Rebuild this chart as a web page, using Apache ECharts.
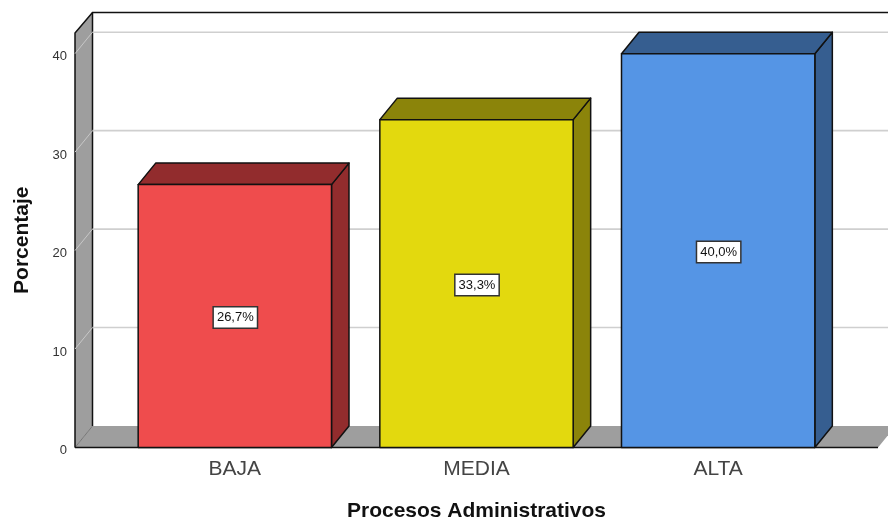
<!DOCTYPE html>
<html>
<head>
<meta charset="utf-8">
<style>html,body{margin:0;padding:0;background:#fff}#c{width:888px;height:523px}</style>
<script src="https://cdn.jsdelivr.net/npm/echarts@6/dist/echarts.min.js"></script>
</head>
<body>
<div id="c"></div>
<script>
const categories = ['BAJA', 'MEDIA', 'ALTA'];
const percentages = [26.7, 33.3, 40.0];
const valueLabels = ['26,7%', '33,3%', '40,0%'];
const frontColors = ['#EF4C4D', '#E3D90E', '#5595E5'];
const sideColors = ['#922C2D', '#8B840A', '#365E90'];
const gridTicks = [10, 20, 30, 40];
const yMax = 42.1;

const DX = 17.5, DY = -21.5, TOP_DY = -20.5, PAD = 39;
const INK = '#111';
const WALL = '#9E9E9E';
const FONT = '"Liberation Sans", Arial, sans-serif';

const chart = echarts.init(document.getElementById('c'), null, {renderer: 'canvas'});

function renderWalls(params, api) {
  const cs = params.coordSys;
  const xL = cs.x - PAD, xR = cs.x + cs.width + PAD;
  const y0 = api.coord([0, 0])[1];
  const yT = api.coord([0, yMax])[1];
  return {
    type: 'group',
    children: [
      {type: 'polygon', shape: {points: [[xL, y0], [xL + DX, y0 + DY], [xR + DX, y0 + DY], [xR, y0]]},
        style: {fill: WALL, stroke: null}},
      {type: 'polygon', shape: {points: [[xL, yT], [xL + DX, yT + TOP_DY], [xL + DX, y0 + DY], [xL, y0]]},
        style: {fill: WALL, stroke: null}},
      {type: 'line', shape: {x1: xL, y1: y0, x2: xL + DX, y2: y0 + DY}, style: {stroke: '#777', lineWidth: 1}},
      {type: 'polyline', shape: {points: [[xL, y0], [xL, yT], [xL + DX, yT + TOP_DY], [xR + DX + 20, yT + TOP_DY]]},
        style: {stroke: INK, fill: null, lineWidth: 1.5}},
      {type: 'line', shape: {x1: xL + DX, y1: yT + TOP_DY, x2: xL + DX, y2: y0 + DY}, style: {stroke: INK, lineWidth: 1.5}},
      {type: 'line', shape: {x1: xL, y1: y0, x2: xR, y2: y0}, style: {stroke: INK, lineWidth: 1.5}}
    ]
  };
}

function renderGrid(params, api) {
  const cs = params.coordSys;
  const xL = cs.x - PAD;
  const y = api.coord([0, api.value(0)])[1];
  return {
    type: 'group',
    children: [
      {type: 'line', shape: {x1: xL + DX, y1: y + DY, x2: 900, y2: y + DY}, style: {stroke: '#CFCFCF', lineWidth: 1.6}},
      {type: 'line', shape: {x1: xL, y1: y, x2: xL + DX, y2: y + DY}, style: {stroke: '#C8C8C8', lineWidth: 1}}
    ]
  };
}

function renderBar(params, api) {
  const i = params.dataIndex;
  const p = api.coord([api.value(0), api.value(1)]);
  const base = api.coord([api.value(0), 0]);
  const w = api.size([1, 0])[0] * 0.8;
  const l = p[0] - w / 2, r = p[0] + w / 2, t = p[1], b = base[1];
  const edge = {stroke: INK, lineWidth: 1.5, lineJoin: 'round'};
  return {
    type: 'group',
    children: [
      {type: 'polygon', shape: {points: [[r, t], [r + DX, t + DY], [r + DX, b + DY], [r, b]]},
        style: Object.assign({fill: sideColors[i]}, edge)},
      {type: 'polygon', shape: {points: [[l, t], [l + DX, t + DY], [r + DX, t + DY], [r, t]]},
        style: Object.assign({fill: sideColors[i]}, edge)},
      {type: 'rect', shape: {x: l, y: t, width: w, height: b - t},
        style: Object.assign({fill: frontColors[i]}, edge)},
      {type: 'text', x: p[0] + 0.5, y: (t + b) / 2 + 1.5,
        style: {text: valueLabels[i], font: '13px ' + FONT, fill: '#111', align: 'center', verticalAlign: 'middle',
          backgroundColor: '#fff', borderColor: '#333', borderWidth: 1.5, padding: [4, 3, 3, 3]}}
    ]
  };
}

chart.setOption({
  animation: false,
  backgroundColor: '#fff',
  grid: {left: 114, right: 49, top: 33, bottom: 75.5, outerBoundsMode: 'none'},
  xAxis: {
    type: 'category',
    data: categories,
    name: 'Procesos Administrativos',
    nameLocation: 'middle',
    nameGap: 53,
    nameTextStyle: {fontFamily: FONT, fontWeight: 'bold', fontSize: 21, color: '#111'},
    axisLine: {show: false},
    axisTick: {show: false},
    axisLabel: {fontFamily: FONT, fontSize: 21, color: '#444', margin: 11}
  },
  yAxis: {
    type: 'value',
    min: 0,
    max: yMax,
    interval: 10,
    offset: 39,
    name: 'Porcentaje',
    nameLocation: 'middle',
    nameGap: 42,
    nameTextStyle: {fontFamily: FONT, fontWeight: 'bold', fontSize: 21, color: '#111'},
    axisLine: {show: false},
    axisTick: {show: false},
    splitLine: {show: false},
    axisLabel: {fontFamily: FONT, fontSize: 13, color: '#333', margin: 8, verticalAlign: 'top', lineHeight: 6, showMaxLabel: false}
  },
  series: [
    {type: 'custom', silent: true, z: 1, renderItem: renderWalls, data: [[0]], encode: {y: 0}, clip: false},
    {type: 'custom', silent: true, z: 2, renderItem: renderGrid, data: gridTicks.map(v => [v]), encode: {y: 0}, clip: false},
    {type: 'custom', silent: true, z: 3, renderItem: renderBar, clip: false,
      data: categories.map((c, i) => [i, percentages[i]]), encode: {x: 0, y: 1}}
  ]
});
</script>
</body>
</html>
